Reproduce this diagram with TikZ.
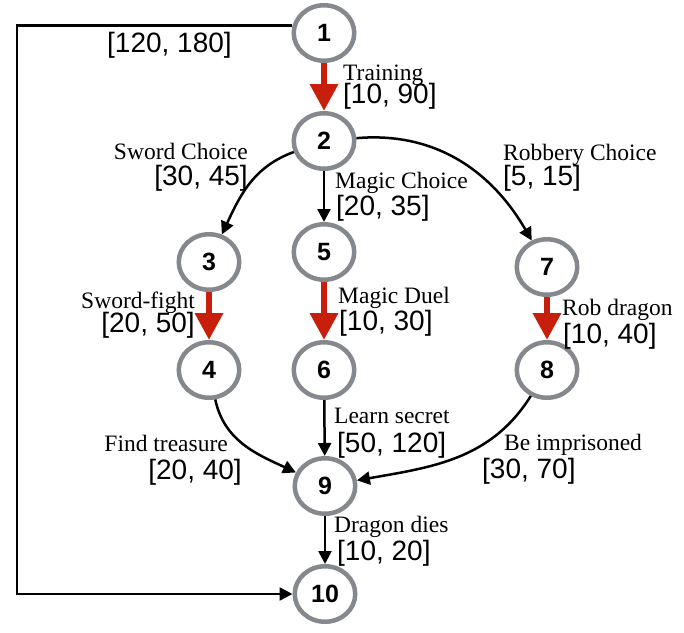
\documentclass[tikz,border=0pt]{standalone}
\usepackage{fontspec}
\usetikzlibrary{arrows.meta,shapes.geometric}
\newfontfamily\lblfont{Liberation Serif}
\newfontfamily\ivfont{Liberation Sans}
\definecolor{ringgray}{RGB}{133,136,140}
\definecolor{arrred}{RGB}{200,30,12}
\tikzset{
  state/.style={ellipse, draw=ringgray, line width=4.5pt, minimum width=60.5pt,
    minimum height=55.5pt, inner sep=0pt, font=\ivfont\bfseries\fontsize{25}{25}\selectfont},
  blk/.style={line width=2.5pt, -{Triangle[length=13pt,width=13pt]}},
  redarr/.style={color=arrred, line width=6.5pt, -{Triangle[length=27pt,width=27pt]}},
  lbl/.style={inner sep=0pt, font=\lblfont\fontsize{23.5}{26}\selectfont},
  iv/.style={inner sep=0pt, font=\ivfont\fontsize{28}{30}\selectfont},
}
\begin{document}
\begin{tikzpicture}[x=1pt,y=1pt]
\useasboundingbox (0,-632) rectangle (684,0);
% nodes
\node[state] (n1) at (324,-33) {1};
\node[state] (n2) at (324,-141) {2};
\node[state] (n3) at (209,-262) {3};
\node[state] (n5) at (324,-252) {5};
\node[state] (n7) at (547,-267) {7};
\node[state] (n4) at (209,-370) {4};
\node[state] (n6) at (324,-370) {6};
\node[state] (n8) at (547,-370) {8};
\node[state] (n9) at (325,-486) {9};
\node[state] (n10) at (325,-594) {10};
% edges
\draw[redarr] (n1) -- (n2);
\draw[blk] (n2) to[out=200,in=65] (n3);
\draw[blk] (n2) -- (n5);
\draw[blk] (n2) to[out=5,in=120] (n7);
\draw[redarr] (n3) -- (n4);
\draw[redarr] (n5) -- (n6);
\draw[redarr] (n7) -- (n8);
\draw[blk] (n4) to[out=282,in=155] (n9);
\draw[blk] (n6) -- (n9);
\draw[blk] (n8) to[out=238,in=10] (n9);
\draw[blk] (n9) -- (n10);
\coordinate (cL) at (17,0);
\draw[blk] (n1.167) -- (n1.167 -| cL) |- (n10);
% labels
\node[iv, anchor=base west] (l1) at (107,-52) {[120, 180]};
\node[lbl, anchor=base west] (l2a) at (343,-80) {Training};
\node[iv, anchor=base west] (l2b) at (343,-103) {[10, 90]};
\node[lbl, anchor=base east] (l3a) at (248,-159) {Sword Choice};
\node[iv, anchor=base east] (l3b) at (248,-185) {[30, 45]};
\node[lbl, anchor=base west] (l5a) at (335,-188) {Magic Choice};
\node[iv, anchor=base west] (l5b) at (336,-215) {[20, 35]};
\node[lbl, anchor=base west] (l7a) at (503,-160) {Robbery Choice};
\node[iv, anchor=base west] (l7b) at (503,-185) {[5, 15]};
\node[lbl, anchor=base east] (l4a) at (195,-308) {Sword-fight};
\node[iv, anchor=base east] (l4b) at (195,-332) {[20, 50]};
\node[lbl, anchor=base west] (l6a) at (338,-303) {Magic Duel};
\node[iv, anchor=base west] (l6b) at (339,-330) {[10, 30]};
\node[lbl, anchor=base west] (l8a) at (562,-315) {Rob dragon};
\node[iv, anchor=base west] (l8b) at (563,-343) {[10, 40]};
\node[lbl, anchor=base west] (l9a) at (334,-423) {Learn secret};
\node[iv, anchor=base west] (l9b) at (337,-452) {[50, 120]};
\node[lbl, anchor=base east] (l9c) at (228,-451) {Find treasure};
\node[iv, anchor=base east] (l9d) at (242,-479) {[20, 40]};
\node[lbl, anchor=base west] (l9e) at (504,-450) {Be imprisoned};
\node[iv, anchor=base west] (l9f) at (482,-478) {[30, 70]};
\node[lbl, anchor=base west] (l10a) at (334,-532) {Dragon dies};
\node[iv, anchor=base west] (l10b) at (337,-560) {[10, 20]};
\end{tikzpicture}
\end{document}
